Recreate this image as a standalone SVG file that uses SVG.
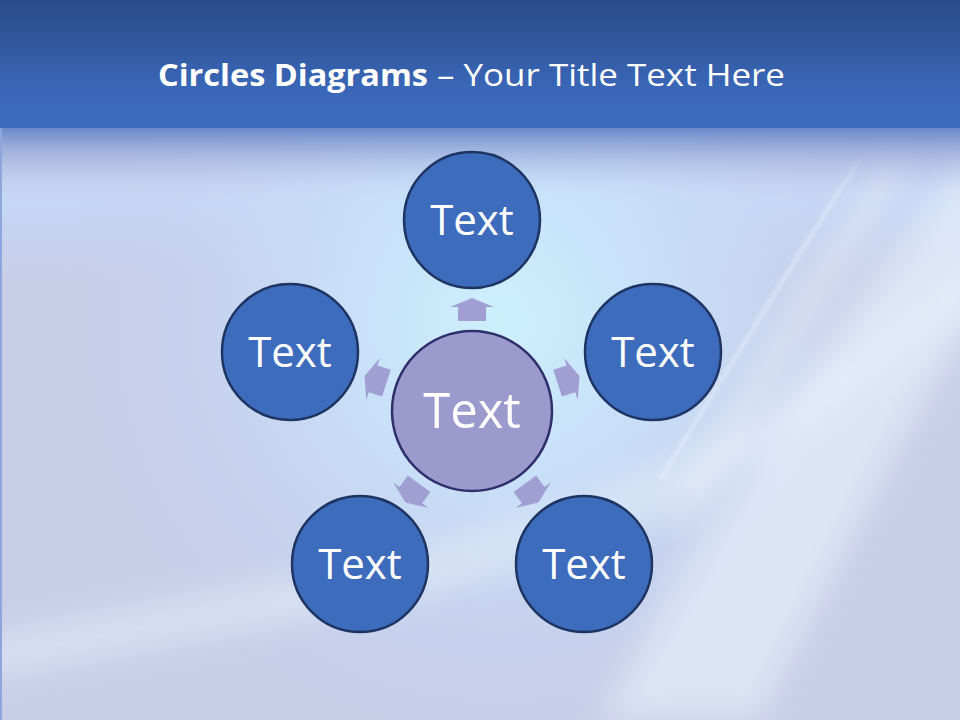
<svg xmlns="http://www.w3.org/2000/svg" width="960" height="720" viewBox="0 0 960 720">
<defs>
<linearGradient id="band" x1="0" y1="0" x2="0" y2="1">
<stop offset="0" stop-color="#294b88"/>
<stop offset="0.7" stop-color="#3a67b7"/>
<stop offset="1" stop-color="#3d6bbb"/>
</linearGradient>
<linearGradient id="fade" x1="0" y1="0" x2="0" y2="1">
<stop offset="0" stop-color="#5f80c6" stop-opacity="0.95"/>
<stop offset="0.35" stop-color="#8fa4d6" stop-opacity="0.7"/>
<stop offset="1" stop-color="#c4d4f2" stop-opacity="0"/>
</linearGradient>
<radialGradient id="glow" cx="500" cy="320" r="440" gradientUnits="userSpaceOnUse">
<stop offset="0" stop-color="#cdf0fd"/>
<stop offset="0.35" stop-color="#c8e2fa" stop-opacity="0.9"/>
<stop offset="0.75" stop-color="#c6d6f2" stop-opacity="0.4"/>
<stop offset="1" stop-color="#c8cfea" stop-opacity="0"/>
</radialGradient>
<linearGradient id="hband" x1="0" y1="0" x2="0" y2="1">
<stop offset="0" stop-color="#c4d8f6" stop-opacity="0"/>
<stop offset="0.4" stop-color="#c4d8f6" stop-opacity="0.9"/>
<stop offset="1" stop-color="#c4d8f6" stop-opacity="0"/>
</linearGradient>
<filter id="blur" x="-50%" y="-50%" width="200%" height="200%"><feGaussianBlur stdDeviation="16"/></filter>
<filter id="blur2" x="-50%" y="-50%" width="200%" height="200%"><feGaussianBlur stdDeviation="2"/></filter>
</defs>
<style>
.node{fill:#3e6cbd;stroke:#1e3564;stroke-width:2.5}
.hub{fill:#9c9acd;stroke:#2f2f6c;stroke-width:2.5}
.lbl{font-family:"Open Sans","Noto Sans",sans-serif;font-size:42px;fill:#ffffff;text-anchor:middle}
.arrow{fill:#a09ed2}
.title{font-family:"Open Sans","Noto Sans",sans-serif;font-size:31px;fill:#ffffff}
</style>
<g id="background">
<rect width="960" height="720" fill="#c8cde8"/>
<rect y="150" width="960" height="130" fill="url(#hband)"/>
<rect width="960" height="720" fill="url(#glow)"/>
<path d="M-20,660 C200,610 450,590 680,480 C800,420 900,340 980,270" stroke="#e6f0fb" stroke-width="40" fill="none" opacity="0.55" filter="url(#blur)"/>
<path d="M980,140 C880,260 780,400 600,720 L760,720 C860,520 930,380 990,300 Z" fill="#eaf3fd" opacity="0.6" filter="url(#blur)"/>
<path d="M900,160 C840,250 770,360 680,520" stroke="#ffffff" stroke-width="14" fill="none" opacity="0.6" filter="url(#blur)"/>
<path d="M860,160 C800,250 740,350 660,480" stroke="#ffffff" stroke-width="2" fill="none" opacity="0.7" filter="url(#blur2)"/>
<rect y="126" width="960" height="70" fill="url(#fade)"/>
<rect width="960" height="128" fill="url(#band)"/>
<rect x="0" y="128" width="2" height="592" fill="#8fa6dc"/>
</g>
<g id="title">
<text class="title" x="158" y="86"><tspan font-weight="bold" textLength="270" lengthAdjust="spacingAndGlyphs">Circles Diagrams</tspan><tspan x="437" textLength="348" lengthAdjust="spacingAndGlyphs">– Your Title Text Here</tspan></text>
</g>
<g id="connectors">
<path class="arrow" d="M-14,-90 L-14,-104 L-22,-104 L0,-113 L22,-104 L14,-104 L14,-90 Z" transform="translate(472,411)"/>
<path class="arrow" d="M-14,-90 L-14,-104 L-22,-104 L0,-113 L22,-104 L14,-104 L14,-90 Z" transform="translate(472,411) rotate(72)"/>
<path class="arrow" d="M-14,-90 L-14,-104 L-22,-104 L0,-113 L22,-104 L14,-104 L14,-90 Z" transform="translate(472,411) rotate(144)"/>
<path class="arrow" d="M-14,-90 L-14,-104 L-22,-104 L0,-113 L22,-104 L14,-104 L14,-90 Z" transform="translate(472,411) rotate(216)"/>
<path class="arrow" d="M-14,-90 L-14,-104 L-22,-104 L0,-113 L22,-104 L14,-104 L14,-90 Z" transform="translate(472,411) rotate(288)"/>
</g>
<g id="node-center"><circle class="hub" cx="472" cy="411" r="80"/><text class="lbl" x="472" y="428" style="font-size:49px">Text</text></g>
<g id="node-top"><circle class="node" cx="472" cy="220" r="68"/><text class="lbl" x="472" y="235">Text</text></g>
<g id="node-right"><circle class="node" cx="653" cy="352" r="68"/><text class="lbl" x="653" y="367">Text</text></g>
<g id="node-bottom-right"><circle class="node" cx="584" cy="564" r="68"/><text class="lbl" x="584" y="579">Text</text></g>
<g id="node-bottom-left"><circle class="node" cx="360" cy="564" r="68"/><text class="lbl" x="360" y="579">Text</text></g>
<g id="node-left"><circle class="node" cx="290" cy="352" r="68"/><text class="lbl" x="290" y="367">Text</text></g>
</svg>
